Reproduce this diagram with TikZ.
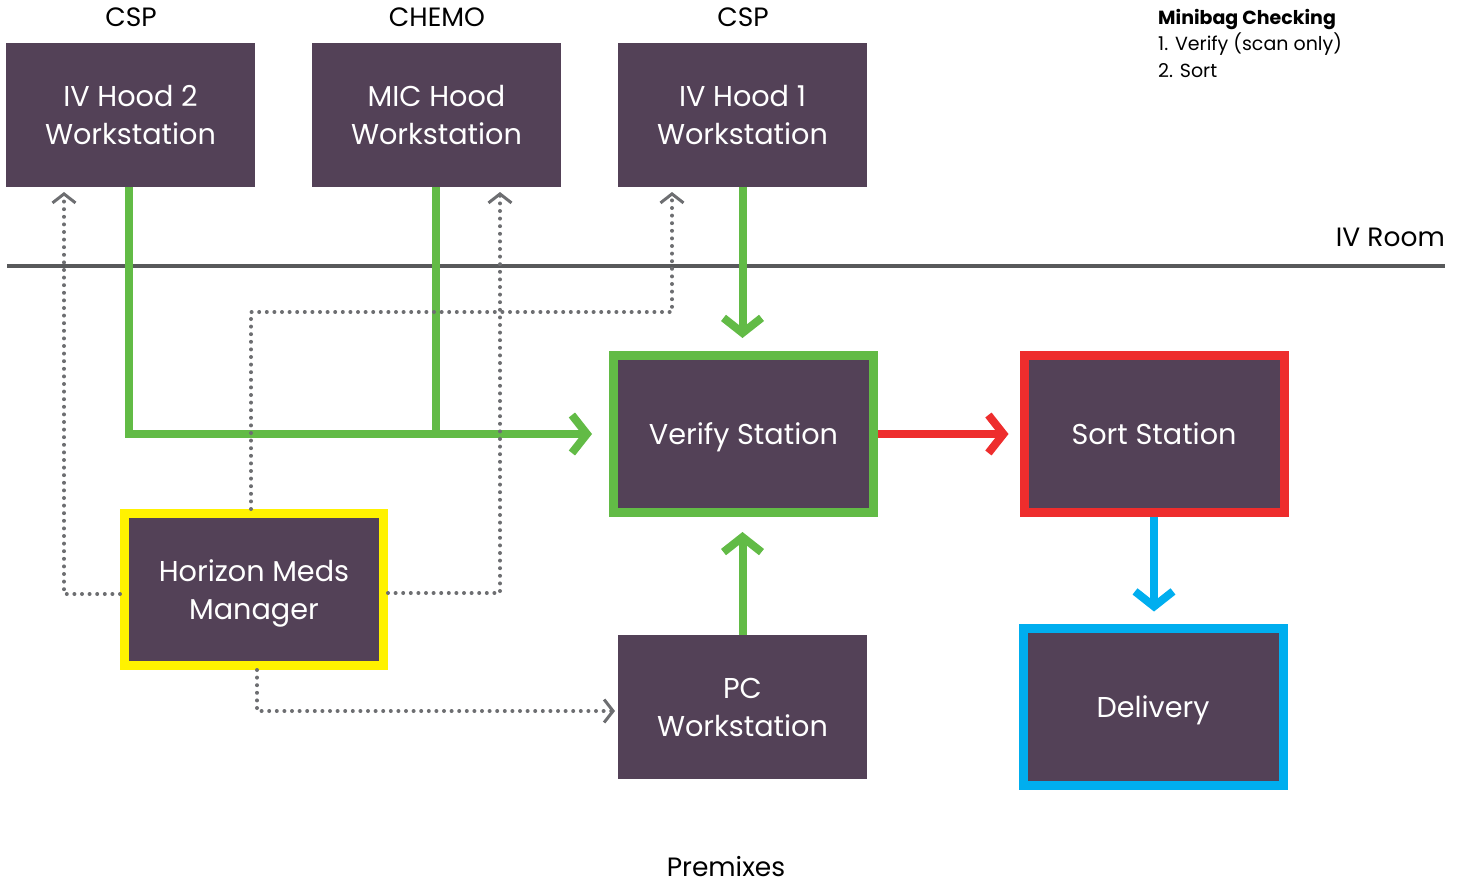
\documentclass[tikz,border=0pt]{standalone}
\usepackage{fontspec}
\setmainfont{Poppins}
\usetikzlibrary{arrows.meta}
\definecolor{boxfill}{HTML}{534157}
\definecolor{flowgreen}{HTML}{62BB46}
\definecolor{flowred}{HTML}{EE2D2D}
\definecolor{flowblue}{HTML}{00AEEF}
\definecolor{hmmyellow}{HTML}{FFF200}
\definecolor{dotgray}{HTML}{6D6E71}
\definecolor{rulegray}{HTML}{58595B}
\tikzset{
  station/.style={rectangle, fill=boxfill, text=white, align=center,
    minimum width=249pt, minimum height=144pt, inner sep=0pt, outer sep=0pt,
    text depth=0pt, font=\fontsize{28.7}{38}\selectfont},
  framed/.style={station, draw=#1, line width=9pt,
    minimum width=260pt, minimum height=157pt, outer sep=4.5pt},
  caption/.style={font=\fontsize{26.5}{30}\selectfont, inner sep=0pt},
  flow/.style={draw=#1, line width=8pt,
    -{Straight Barb[length=15pt,width=38pt,line width=8pt]}},
  dataflow/.style={draw=dotgray, line width=4pt, line cap=round,
    dash pattern=on 0pt off 7.6pt,
    -{Straight Barb[length=9pt,width=23pt,line width=3pt]}},
}
\begin{document}
\begin{tikzpicture}[x=1pt, y=-1pt]
\useasboundingbox (0,0) rectangle (1462,883);

% workstations
\node[station] (hood2) at (130.5,115) {IV Hood 2\\Workstation};
\node[station] (mic)   at (436.5,115) {MIC Hood\\Workstation};
\node[station] (hood1) at (742.5,115) {IV Hood 1\\Workstation};
\node[station] (pc)    at (742.5,707) {PC\\Workstation};

\node[framed=flowgreen] (verify) at (743.5,434) {Verify Station};
\node[framed=flowred]   (sort)   at (1154,434)  {Sort Station};
\node[framed=flowblue]  (deliv)  at (1153,706.5) {Delivery};
\node[framed=hmmyellow, minimum width=259pt, minimum height=152pt]
  (hmm) at (254,589.5) {Horizon Meds\\Manager};

% room labels
\node[caption] (csp2)  at (131,17) {CSP};
\node[caption] (chemo) at (437,17) {CHEMO};
\node[caption] (csp1)  at (743,17) {CSP};
\node[caption, anchor=east] (ivroom) at (1445,237) {IV Room};
\node[caption, anchor=base] (premix) at (726,876) {Premixes};

\node[anchor=north west, align=left, inner sep=0pt,
  font=\fontsize{19}{26.5}\selectfont] (notes) at (1158,9)
  {\textbf{Minibag Checking}\\1. Verify (scan only)\\2. Sort};

% room boundary
\draw[rulegray, line width=4pt] (7,266) -- (1445,266);

% compounded products to verification
\draw[flow=flowgreen, shorten >=17pt] ([xshift=-1.5pt]hood2.south) |- (verify.west);
\draw[draw=flowgreen, line width=8pt] ([xshift=-0.5pt]mic.south) -- ([xshift=-0.5pt]mic.south |- verify.west);
\draw[flow=flowgreen, shorten >=13pt] (hood1.south) -- (hood1.south |- verify.north);
\draw[flow=flowgreen, shorten >=15pt] (pc.north) -- (pc.north |- verify.south);
\draw[flow=flowred, shorten >=11pt] (verify.east) -- (sort.west);
\draw[flow=flowblue, shorten >=12pt] (sort.south) -- (sort.south |- deliv.north);

% order data from the manager
\draw[dataflow, shorten >=5pt] ([yshift=-4.5pt]hmm.west) -| ([xshift=-66.5pt]hood2.south);
\draw[dataflow, shorten >=5pt] ([xshift=-3pt]hmm.north) -- ++(0,-197) -| ([xshift=-70.5pt]hood1.south);
\draw[dataflow, shorten >=5pt] ([yshift=-3.5pt]hmm.east) -| ([xshift=63.5pt]mic.south);
\draw[dataflow, shorten >=3pt] ([xshift=3pt]hmm.south) |- ([yshift=-4pt]pc.west);
\end{tikzpicture}
\end{document}
